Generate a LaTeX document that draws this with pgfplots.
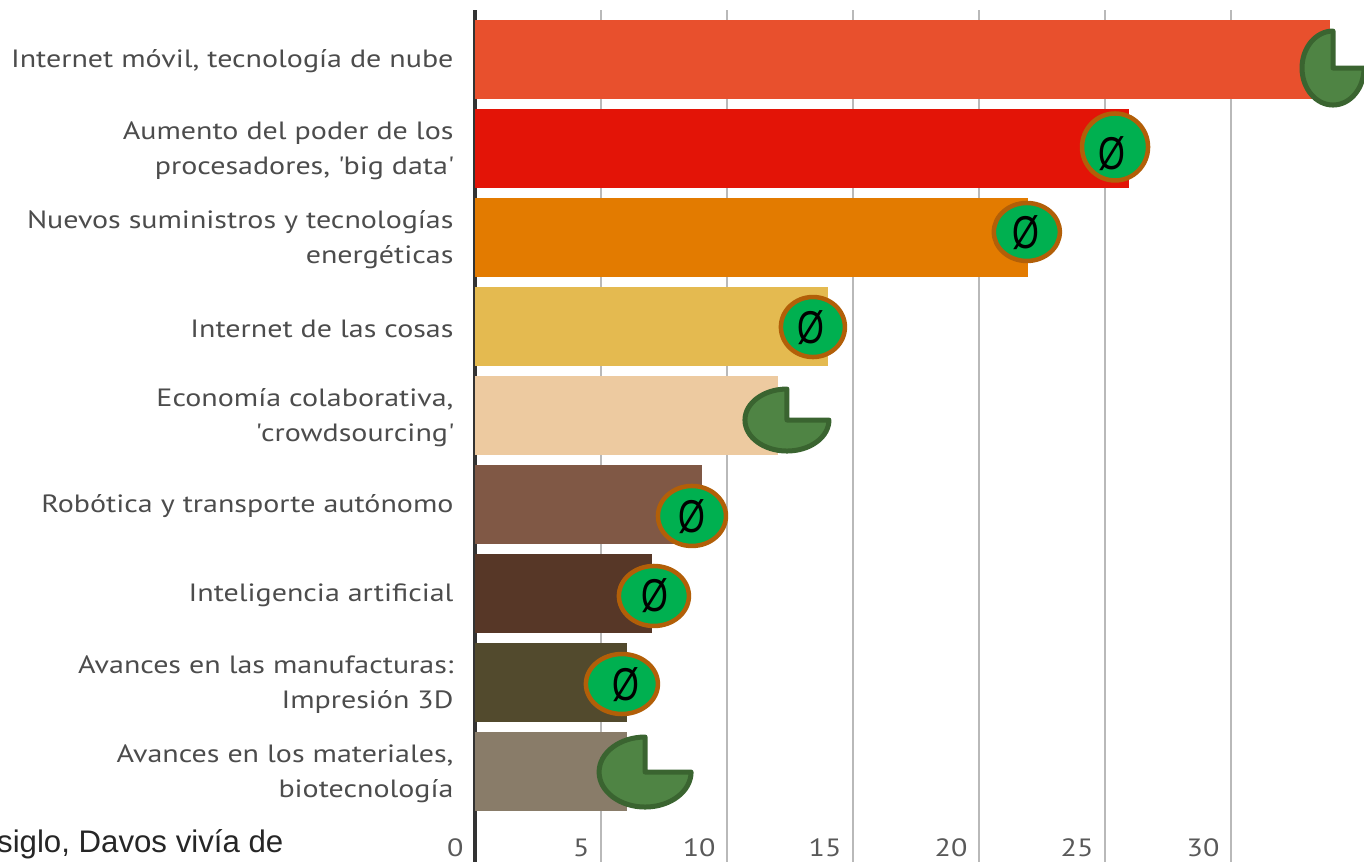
\documentclass[border=0pt]{standalone}
\usepackage{fontspec}
\setmainfont{PT Sans}[FakeStretch=1.2]
\newfontfamily\arialfont{Liberation Sans}
\newfontfamily\slashfont{Liberation Sans}[FakeStretch=0.75]
\usepackage{pgfplots}
\pgfplotsset{compat=1.18}
\definecolor{pacfill}{HTML}{4F8444}
\definecolor{pacline}{HTML}{3A6430}
\definecolor{ovfill}{HTML}{00B050}
\definecolor{ovline}{HTML}{B25F08}
\definecolor{c1}{HTML}{E8502D}
\definecolor{c2}{HTML}{E31407}
\definecolor{c3}{HTML}{E37B00}
\definecolor{c4}{HTML}{E4BA50}
\definecolor{c5}{HTML}{EDCAA0}
\definecolor{c6}{HTML}{805845}
\definecolor{c7}{HTML}{573727}
\definecolor{c8}{HTML}{524A2D}
\definecolor{c9}{HTML}{897C69}
\pgfdeclareplotmark{pac}{%
  \pgfpathmoveto{\pgfpointorigin}%
  \pgfpathlineto{\pgfqpoint{0pt}{1pt}}%
  \pgfpatharc{90}{360}{1pt}%
  \pgfpathclose
  \pgfusepathqfillstroke}
\pgfdeclareplotmark{oval}{%
  \pgfpathcircle{\pgfpointorigin}{1pt}%
  \pgfusepathqfillstroke}
\pgfplotsset{
  hbar/.style={xbar, bar shift=0pt, bar width=79pt, draw=none, fill=#1},
  pacm/.style n args={2}{only marks, mark=pac, mark options={xscale=#1, yscale=#2, fill=pacfill, draw=pacline, line width=5pt, line join=round}},
  % rx, ry, then shift of the slashed O inside the oval
  ovm/.style n args={4}{only marks, mark=oval, mark options={xscale=#1, yscale=#2, fill=ovfill, draw=ovline, line width=4.5pt},
    nodes near coords={\slashfont\fontsize{46}{46}\selectfont Ø}, nodes near coords align=center,
    every node near coord/.append style={text=black, inner sep=0pt, xshift=#3, yshift=#4}},
}
\begin{document}
\begin{tikzpicture}[x=1pt, y=1pt]
\clip (0,0) rectangle (1364,862);
\begin{axis}[
    at={(475pt,0pt)}, anchor=south west,
    scale only axis, width=889pt, height=852pt,
    xmin=0, xmax=35.28, ymin=-0.556, ymax=9.017,
    y dir=reverse,
    clip=false,
    axis y line=left, axis x line=bottom,
    x axis line style={draw=none},
    y axis line style={draw=black!80, line width=3.5pt, -},
    major tick length=0pt,
    xtick={0,5,...,30},
    ytick={0,...,8},
    yticklabels={
      {Internet móvil, tecnología de nube},
      {Aumento del poder de los\\procesadores, \textquotesingle big data\textquotesingle},
      {Nuevos suministros y tecnologías\\energéticas},
      {Internet de las cosas},
      {Economía colaborativa,\\\textquotesingle crowdsourcing\textquotesingle},
      {Robótica y transporte autónomo},
      {Inteligencia artificial},
      {Avances en las manufacturas:\\Impresión 3D},
      {Avances en los materiales,\\biotecnología}},
    xmajorgrids, grid style={draw=gray!55, line width=2pt},
    /pgf/number format/assume math mode=true,
    yticklabel style={align=right, text=black!70, font=\fontsize{25}{35}\selectfont, xshift=-18pt, yshift=-2pt},
    xticklabel style={anchor=east, text=black!65, font=\fontsize{25}{25}\selectfont, xshift=-8pt, yshift=14pt},
]
\addplot[hbar=c1] coordinates {(33.95,0)};
\addplot[hbar=c2] coordinates {(25.95,1)};
\addplot[hbar=c3] coordinates {(21.95,2)};
\addplot[hbar=c4] coordinates {(14,3)};
\addplot[hbar=c5] coordinates {(12.04,4)};
\addplot[hbar=c6] coordinates {(9,5)};
\addplot[hbar=c7] coordinates {(7.04,6)};
\addplot[hbar=c8] coordinates {(6.04,7)};
\addplot[hbar=c9] coordinates {(6.04,8)};
\addplot[pacm={31}{37}] coordinates {(34.05,0.096)};
\addplot[ovm={33}{33.5}{-3pt}{-7pt}] coordinates {(25.4,0.983)};
\addplot[ovm={33}{29}{-1pt}{-1pt}] coordinates {(21.9,1.938)};
\addplot[ovm={32}{30}{-2pt}{-1pt}] coordinates {(13.41,3.006)};
\addplot[pacm={42}{31}] coordinates {(12.38,4.051)};
\addplot[ovm={34}{30}{0pt}{-1pt}] coordinates {(8.61,5.129)};
\addplot[ovm={35}{30}{1pt}{0pt}] coordinates {(7.10,6.028)};
\addplot[ovm={36}{30}{4pt}{-1pt}] coordinates {(5.83,7.017)};
\addplot[pacm={46}{35}] coordinates {(6.75,8.006)};
\end{axis}
\node[anchor=base west, inner sep=0pt, text=black!85, font=\arialfont\fontsize{31.2}{31.2}\selectfont] at (-3,10) {siglo, Davos vivía de};
\end{tikzpicture}
\end{document}
